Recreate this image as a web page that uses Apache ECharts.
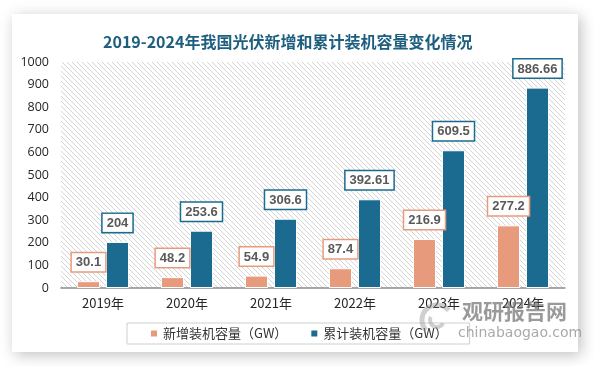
<!DOCTYPE html>
<html>
<head>
<meta charset="utf-8">
<script src="https://cdn.jsdelivr.net/npm/echarts@6/dist/echarts.min.js"></script>
<style>
html,body{margin:0;padding:0;background:#ffffff;}
#chart{width:594px;height:366px;}
</style>
</head>
<body>
<div id="chart"></div>
<script>
var categories = ['2019年', '2020年', '2021年', '2022年', '2023年', '2024年'];
var newCapacity = [30.1, 48.2, 54.9, 87.4, 216.9, 277.2];
var cumulativeCapacity = [204, 253.6, 306.6, 392.61, 609.5, 886.66];
var seriesNames = ['新增装机容量（GW）', '累计装机容量（GW）'];
var titleText = '2019-2024年我国光伏新增和累计装机容量变化情况';

var ORANGE = '#E89B7C';
var BLUE = '#1B6A8F';

// hatch pattern
var pc = document.createElement('canvas');
pc.width = 5; pc.height = 5;
var ctx = pc.getContext('2d');
ctx.fillStyle = '#ffffff';
ctx.fillRect(0, 0, 5, 5);
ctx.strokeStyle = '#d4d4d4';
ctx.lineWidth = 1;
ctx.beginPath();
ctx.moveTo(-1, -1); ctx.lineTo(6, 6);
ctx.moveTo(-1, 4); ctx.lineTo(1, 6);
ctx.moveTo(4, -1); ctx.lineTo(6, 1);
ctx.stroke();

var chart = echarts.init(document.getElementById('chart'), null, {renderer: 'canvas'});

function labelCfg(color) {
  return {
    show: true,
    position: 'top',
    distance: 10,
    backgroundColor: '#ffffff',
    borderColor: color,
    borderWidth: 1.5,
    padding: [3, 4, 2, 4],
    color: '#595959',
    fontWeight: 'bold',
    fontSize: 13,
    fontFamily: 'Liberation Sans, Arial, sans-serif'
  };
}

var option = {
  animation: false,
  backgroundColor: '#ffffff',
  title: {
    text: titleText,
    left: 98,
    top: 29,
    textStyle: {
      color: '#1E5F80',
      fontSize: 16,
      fontWeight: 'bold',
      fontFamily: 'Noto Sans CJK SC, sans-serif'
    }
  },
  graphic: [
    {
      type: 'rect',
      z: -10,
      shape: {x: 12, y: 14, width: 566, height: 338},
      style: {fill: '#ffffff', shadowBlur: 14, shadowColor: 'rgba(0,0,0,0.25)', shadowOffsetX: 3, shadowOffsetY: 3}
    },
    {
      type: 'text',
      z: 100,
      left: 462,
      top: 301,
      style: {text: '观研报告网', fill: 'rgba(120,120,120,0.75)', font: 'bold 21px "Noto Sans CJK SC", sans-serif'}
    },
    {
      type: 'text',
      z: 100,
      left: 458,
      top: 326,
      style: {text: 'chinabaogao.com', fill: 'rgba(140,140,140,0.75)', font: '14px "DejaVu Sans", sans-serif'}
    },
    {
      type: 'arc',
      z: 100,
      shape: {cx: 437, cy: 320, r: 15, startAngle: 2.4, endAngle: 5.6},
      style: {stroke: 'rgba(150,150,150,0.45)', lineWidth: 5, fill: 'none'}
    },
    {
      type: 'arc',
      z: 100,
      shape: {cx: 437, cy: 320, r: 7, startAngle: 0.5, endAngle: 3.6},
      style: {stroke: 'rgba(150,150,150,0.45)', lineWidth: 4, fill: 'none'}
    }
  ],
  legend: {
    data: seriesNames,
    left: 127,
    top: 323,
    padding: [4, 22, 4, 22],
    borderColor: '#cfcfcf',
    borderWidth: 1,
    itemWidth: 8,
    itemHeight: 8,
    itemGap: 22,
    icon: 'rect',
    textStyle: {
      color: '#333333',
      fontSize: 13,
      fontFamily: 'Noto Sans CJK SC, sans-serif'
    }
  },
  grid: {
    left: 61,
    right: 29,
    top: 62,
    bottom: 78,
    show: true,
    borderWidth: 0,
    backgroundColor: {image: pc, repeat: 'repeat'}
  },
  xAxis: {
    type: 'category',
    data: categories,
    axisLine: {lineStyle: {color: '#8c8c8c', width: 1.5}},
    axisTick: {show: false},
    axisLabel: {
      color: '#262626',
      fontSize: 13,
      margin: 9,
      fontFamily: 'Noto Sans CJK SC, sans-serif'
    }
  },
  yAxis: {
    type: 'value',
    min: 0,
    max: 1000,
    interval: 100,
    splitLine: {show: false},
    axisLine: {show: false},
    axisTick: {show: false},
    axisLabel: {
      color: '#262626',
      fontSize: 12.5,
      margin: 12,
      fontFamily: 'Open Sans, sans-serif',
      formatter: function (v) { return String(v); }
    }
  },
  series: [
    {
      name: seriesNames[0],
      type: 'bar',
      data: newCapacity,
      barWidth: 23,
      barGap: '26%',
      itemStyle: {color: ORANGE, borderColor: '#ffffff', borderWidth: 1},
      label: labelCfg(ORANGE)
    },
    {
      name: seriesNames[1],
      type: 'bar',
      data: cumulativeCapacity,
      barWidth: 23,
      barGap: '26%',
      itemStyle: {color: BLUE, borderColor: '#ffffff', borderWidth: 1},
      label: labelCfg(BLUE)
    }
  ]
};
chart.setOption(option);
</script>
</body>
</html>
